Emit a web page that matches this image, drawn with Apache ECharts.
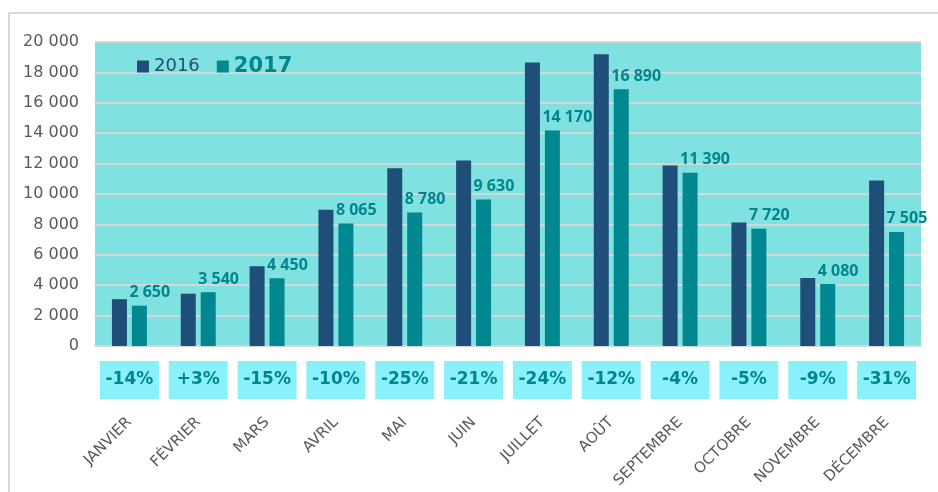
<!DOCTYPE html>
<html><head><meta charset="utf-8">
<script src="https://cdn.jsdelivr.net/npm/echarts@6/dist/echarts.min.js"></script>
<style>html,body{margin:0;padding:0;background:#fff}#c{width:938px;height:492px}</style>
</head><body><div id="c"></div>
<script>
const months = ['JANVIER','FÉVRIER','MARS','AVRIL','MAI','JUIN','JUILLET','AOÛT','SEPTEMBRE','OCTOBRE','NOVEMBRE','DÉCEMBRE'];
const values2016 = [3080, 3440, 5240, 8960, 11700, 12200, 18650, 19200, 11870, 8130, 4480, 10880];
const values2017 = [2650, 3540, 4450, 8065, 8780, 9630, 14170, 16890, 11390, 7720, 4080, 7505];
const variations = ['-14%','+3%','-15%','-10%','-25%','-21%','-24%','-12%','-4%','-5%','-9%','-31%'];
const yTicks = {min: 0, max: 20000, interval: 2000};

const fmt = v => String(v).replace(/\B(?=(\d{3})+(?!\d))/g, ' ');
const chart = echarts.init(document.getElementById('c'));
chart.setOption({
  animation: false,
  backgroundColor: '#fff',
  graphic: [{type:'rect', shape:{x:9, y:13, width:960, height:500}, style:{fill:'none', stroke:'#d9d9d9', lineWidth:2}, silent:true}],
  grid: {left: 95, right: 17, top: 42, bottom: 146, show: true, backgroundColor: '#7fe1e0', borderWidth: 0},
  legend: {
    left: 132, top: 51, itemWidth: 12, itemHeight: 12, itemGap: 17, icon: 'rect',
    data: [
      {name: '2016', textStyle: {color: '#1f4e79', fontSize: 18, fontFamily: 'DejaVu Sans'}},
      {name: '2017', textStyle: {color: '#00868f', fontSize: 21, fontWeight: 'bold', fontFamily: 'DejaVu Sans'}}
    ]
  },
  xAxis: [
    {type: 'category', data: months, gridIndex: 0, position: 'bottom',
     axisLine: {show: true, lineStyle: {color: '#d6d6d6', width: 2}}, axisTick: {show: false},
     axisLabel: {rotate: 45, margin: 74, color: '#595959', fontSize: 15, fontFamily: 'DejaVu Sans', interval: 0}},
    {type: 'category', data: variations, gridIndex: 0, position: 'bottom',
     axisLine: {show: false}, axisTick: {show: false},
     axisLabel: {margin: 15, interval: 0, color: '#00868f', fontSize: 17, fontWeight: 'bold', fontFamily: 'DejaVu Sans',
       backgroundColor: '#8af0fa', width: 59, height: 38, lineHeight: 38, align: 'center'}}
  ],
  yAxis: {type: 'value', min: yTicks.min, max: yTicks.max, interval: yTicks.interval,
    axisLine: {show: false}, axisTick: {show: false},
    splitLine: {lineStyle: {color: '#d6d6d6', width: 2}},
    axisLabel: {margin: 16, color: '#595959', fontSize: 16, fontFamily: 'DejaVu Sans', formatter: v => fmt(v)}},
  series: [
    {name: '2016', type: 'bar', data: values2016, barWidth: 15, barGap: '33%', itemStyle: {color: '#1f4e79'}},
    {name: '2017', type: 'bar', data: values2017, barWidth: 15, itemStyle: {color: '#00878f'},
     label: {show: true, position: 'top', align: 'left', offset: [-10, 0], distance: 5,
       color: '#00868f', fontWeight: 'bold', fontSize: 16, fontFamily: 'Noto Sans', formatter: p => fmt(p.value)}}
  ]
});
</script></body></html>
